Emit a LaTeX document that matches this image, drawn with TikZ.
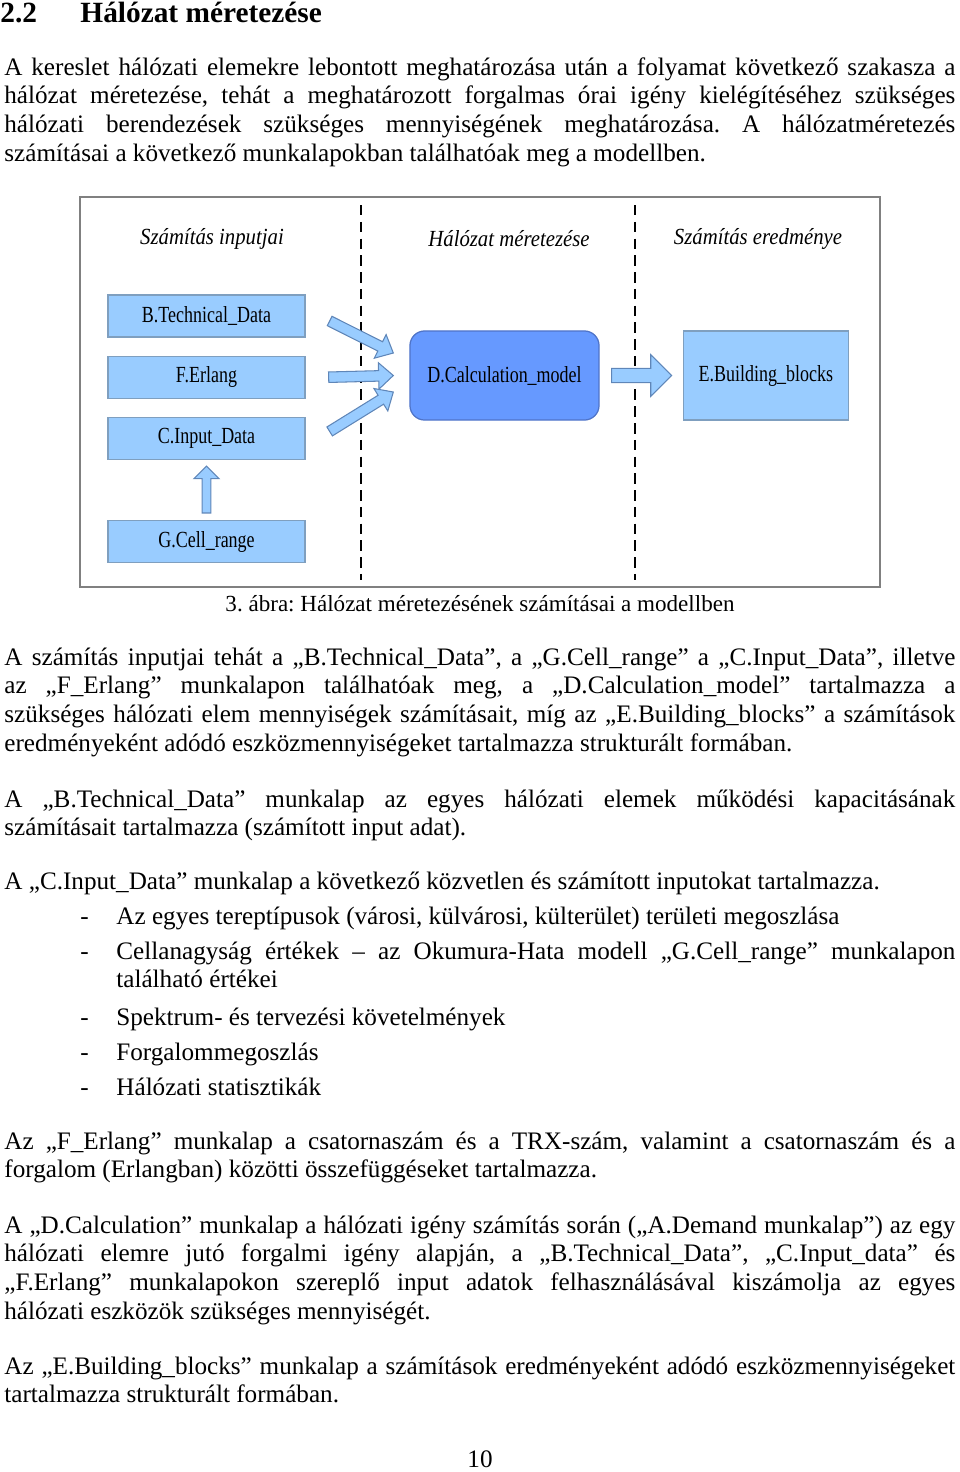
\documentclass[tikz,border=0pt]{standalone}
\usepackage{fontspec}
\setmainfont{Liberation Serif}
\newfontfamily\diagfont{Liberation Serif}[FakeStretch=0.78]
\newfontfamily\headfont{Liberation Serif}[FakeStretch=0.9]
\usetikzlibrary{calc, positioning}
\frenchspacing

\definecolor{sheetfill}{HTML}{99CCFF}
\definecolor{sheetborder}{HTML}{7F9FBF}
\definecolor{modelfill}{HTML}{6699FF}
\definecolor{modelborder}{HTML}{4F74C8}
\definecolor{arrowfill}{HTML}{99CCFF}
\definecolor{arrowborder}{HTML}{5F86B8}
\definecolor{framegray}{HTML}{808080}

% one justified line of a paragraph
\newcommand{\jline}[1]{\makebox[\linewidth][s]{\spaceskip=0pt\xspaceskip=0pt\relax #1}\\}

% block arrow: tail, tip, shaft half width, head half width, head length
\newcommand{\blockarrow}[5]{%
	\coordinate (bahead) at ($(#2)!#5!(#1)$);
	\filldraw[blockarrow] ($(#1)!#3!90:(#2)$) -- ($(bahead)!#3!-90:(#1)$)
		-- ($(bahead)!#4!-90:(#1)$) -- (#2) -- ($(bahead)!#4!90:(#1)$)
		-- ($(bahead)!#3!90:(#1)$) -- ($(#1)!#3!-90:(#2)$) -- cycle;
}

\tikzset{
	sheet/.style={draw=sheetborder, fill=sheetfill, line width=0.6pt, inner sep=0pt,
		minimum width=94pt, minimum height=20pt, font=\diagfont\fontsize{11}{13}\selectfont},
	model/.style={sheet, draw=modelborder, fill=modelfill, rounded corners=7pt,
		minimum width=90.2pt, minimum height=42.5pt},
	result/.style={sheet, minimum width=78.7pt, minimum height=42.5pt},
	colhead/.style={inner sep=0pt, font=\headfont\itshape\fontsize{11}{13}\selectfont},
	blockarrow/.style={draw=arrowborder, fill=arrowfill, line width=0.5pt},
	divider/.style={dash pattern=on 5pt off 3pt, line width=0.8pt},
	para/.style={anchor=base west, inner sep=0pt, text width=453.6pt, align=justify,
		font=\fontsize{12}{13.8}\selectfont},
	item/.style={para, text width=400.2pt},
}

\begin{document}
\begin{tikzpicture}[x=0.477pt, y=-0.477pt]
	\useasboundingbox (0,0) rectangle (960,1472);

	% heading
	\node[anchor=base west, inner sep=0pt, font=\bfseries\fontsize{14}{16}\selectfont]
		(secnum) at (0,22) {2.2};
	\node[anchor=base west, inner sep=0pt, font=\bfseries\fontsize{14}{16}\selectfont]
		(sectitle) at (80,22) {Hálózat méretezése};

	\node[para] (intro) at (4,75) {%
		\jline{A kereslet hálózati elemekre lebontott meghatározása után a folyamat következő szakasza a}
		\jline{hálózat méretezése, tehát a meghatározott forgalmas órai igény kielégítéséhez szükséges}
		\jline{hálózati berendezések szükséges mennyiségének meghatározása. A hálózatméretezés}
		számításai a következő munkalapokban találhatóak meg a modellben.};

	% figure
	\draw[framegray, line width=1.4pt] (80,197) rectangle (880,587);
	\draw[divider] (361,205) -- (361,580);
	\draw[divider] (635,205) -- (635,580);

	\node[colhead] (inhead) at (212,239) {Számítás inputjai};
	\node[colhead] (dimhead) at (509,239) {Hálózat méretezése};
	\node[colhead] (outhead) at (758,239) {Számítás eredménye};

	\node[sheet] (techdata) at (206.5,316) {B.Technical\_Data};
	\node[sheet, below=8.6pt of techdata] (erlang) {F.Erlang};
	\node[sheet, below=8.6pt of erlang] (inputdata) {C.Input\_Data};
	\node[sheet, below=28.6pt of inputdata] (cellrange) {G.Cell\_range};

	\node[model] (calcmodel) at (504.5,375.5) {D.Calculation\_model};
	\node[result, right=39.6pt of calcmodel] (buildblocks) {E.Building\_blocks};

	\coordinate (techtail) at ($(techdata.east)+(24,5)$);
	\coordinate (techtip) at ($(calcmodel.west)+(-16,-22.5)$);
	\coordinate (erltail) at ($(erlang.east)+(23,0)$);
	\coordinate (erltip) at ($(calcmodel.west)+(-16,0)$);
	\coordinate (inptail) at ($(inputdata.east)+(24,-7)$);
	\coordinate (inptip) at ($(calcmodel.west)+(-16,16.5)$);
	\coordinate (modtail) at ($(calcmodel.east)+(12,0)$);
	\coordinate (modtip) at ($(buildblocks.west)+(-11,0)$);
	\coordinate (celltail) at ($(cellrange.north)+(0,-7)$);
	\coordinate (celltip) at ($(inputdata.south)+(0,6)$);

	\blockarrow{techtail}{techtip}{2.5pt}{6.3pt}{7pt}
	\blockarrow{erltail}{erltip}{2.5pt}{6.3pt}{7pt}
	\blockarrow{inptail}{inptip}{2.5pt}{6.3pt}{7pt}
	\blockarrow{modtail}{modtip}{3.4pt}{10pt}{10pt}
	\blockarrow{celltail}{celltip}{2.1pt}{6pt}{6pt}

	\node[anchor=base, inner sep=0pt, font=\fontsize{11}{13}\selectfont]
		(caption) at (480,611) {3. ábra: Hálózat méretezésének számításai a modellben};

	% body text
	\node[para] (inputs) at (4,665) {%
		\jline{A számítás inputjai tehát a „B.Technical\_Data”, a „G.Cell\_range” a „C.Input\_Data”, illetve}
		\jline{az „F\_Erlang” munkalapon találhatóak meg, a „D.Calculation\_model” tartalmazza a}
		\jline{szükséges hálózati elem mennyiségek számításait, míg az „E.Building\_blocks” a számítások}
		eredményeként adódó eszközmennyiségeket tartalmazza strukturált formában.};

	\node[para] (techtext) at (4,807) {%
		\jline{A „B.Technical\_Data” munkalap az egyes hálózati elemek működési kapacitásának}
		számításait tartalmazza (számított input adat).};

	\node[para] (inputtext) at (4,889)
		{A „C.Input\_Data” munkalap a következő közvetlen és számított inputokat tartalmazza.};

	\node[para, text width=20pt] (dash1) at (80,924) {-};
	\node[item] (item1) at (116,924)
		{Az egyes tereptípusok (városi, külvárosi, külterület) területi megoszlása};
	\node[para, text width=20pt] (dash2) at (80,959) {-};
	\node[item] (item2) at (116,959) {%
		\jline{Cellanagyság értékek – az Okumura-Hata modell „G.Cell\_range” munkalapon}
		található értékei};
	\node[para, text width=20pt] (dash3) at (80,1025) {-};
	\node[item] (item3) at (116,1025) {Spektrum- és tervezési követelmények};
	\node[para, text width=20pt] (dash4) at (80,1060) {-};
	\node[item] (item4) at (116,1060) {Forgalommegoszlás};
	\node[para, text width=20pt] (dash5) at (80,1095) {-};
	\node[item] (item5) at (116,1095) {Hálózati statisztikák};

	\node[para] (erlangtext) at (4,1149) {%
		\jline{Az „F\_Erlang” munkalap a csatornaszám és a TRX-szám, valamint a csatornaszám és a}
		forgalom (Erlangban) közötti összefüggéseket tartalmazza.};

	\node[para] (calctext) at (4,1233) {%
		\jline{A „D.Calculation” munkalap a hálózati igény számítás során („A.Demand munkalap”) az egy}
		\jline{hálózati elemre jutó forgalmi igény alapján, a „B.Technical\_Data”, „C.Input\_data” és}
		\jline{„F.Erlang” munkalapokon szereplő input adatok felhasználásával kiszámolja az egyes}
		hálózati eszközök szükséges mennyiségét.};

	\node[para] (blockstext) at (4,1374) {%
		\jline{Az „E.Building\_blocks” munkalap a számítások eredményeként adódó eszközmennyiségeket}
		tartalmazza strukturált formában.};

	\node[anchor=base, inner sep=0pt, font=\fontsize{12}{14}\selectfont] (pagenum) at (480,1467) {10};
\end{tikzpicture}
\end{document}
